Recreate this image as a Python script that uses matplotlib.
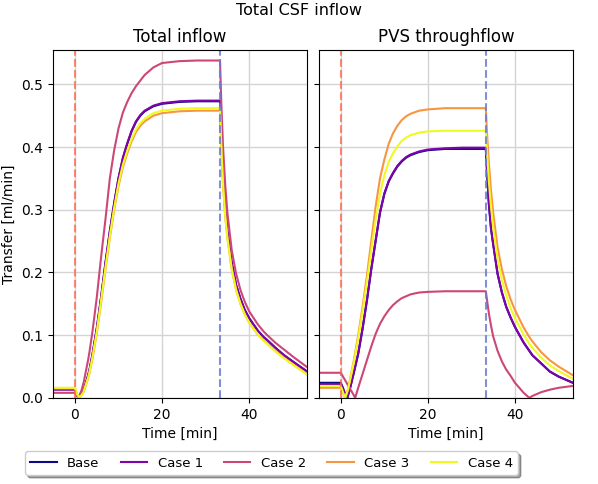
#!/usr/bin/env python3
# -*- coding: utf-8 -*-
"""
    Total CSF inflow: total inflow and PVS throughflow for the base case
    and four parameter variations.
"""

import matplotlib
matplotlib.use('Agg')
import matplotlib.pyplot as plt

# time [min], injection starts at 0, stops at 33.3
time = [-5, 0, 0.5, 1, 1.5, 2, 3, 3.3, 4, 5, 6, 7, 8, 9, 10, 11, 12, 13, 14,
        15, 16, 18, 20, 24, 28, 33.3, 33.6, 34, 34.5, 35, 36, 37, 38, 39, 40,
        42, 43.3, 44, 46, 48, 50, 53.3]
t_start = 0
t_stop = 33.3

labels = ['Base', 'Case 1', 'Case 2', 'Case 3', 'Case 4']

# Total inflow [ml/min]
inflow_base = [0.014, 0.014, 0.004, 0.002, 0.006, 0.012, 0.035, 0.043, 0.068,
               0.11, 0.16, 0.215, 0.265, 0.31, 0.35, 0.382, 0.405, 0.425,
               0.44, 0.45, 0.457, 0.465, 0.469, 0.472, 0.473, 0.473, 0.41,
               0.35, 0.30, 0.265, 0.215, 0.18, 0.158, 0.14, 0.127, 0.107,
               0.097, 0.093, 0.08, 0.068, 0.058, 0.042]
inflow_case1 = [0.013, 0.013, 0.004, 0.002, 0.006, 0.012, 0.036, 0.044,
                0.069, 0.111, 0.161, 0.216, 0.266, 0.311, 0.351, 0.383,
                0.406, 0.426, 0.441, 0.451, 0.458, 0.466, 0.470, 0.473,
                0.474, 0.474, 0.41, 0.35, 0.30, 0.265, 0.215, 0.18, 0.158,
                0.14, 0.127, 0.107, 0.097, 0.093, 0.08, 0.068, 0.058, 0.042]
inflow_case2 = [0.008, 0.008, 0.002, 0.004, 0.012, 0.025, 0.06, 0.072, 0.105,
                0.16, 0.225, 0.285, 0.35, 0.395, 0.43, 0.455, 0.472, 0.486,
                0.497, 0.506, 0.515, 0.527, 0.534, 0.537, 0.538, 0.538, 0.47,
                0.40, 0.34, 0.295, 0.235, 0.198, 0.172, 0.153, 0.138, 0.117,
                0.106, 0.101, 0.088, 0.077, 0.066, 0.049]
inflow_case3 = [0.015, 0.015, 0.005, 0.001, 0.004, 0.010, 0.031, 0.039,
                0.062, 0.103, 0.152, 0.205, 0.255, 0.30, 0.338, 0.368, 0.39,
                0.409, 0.424, 0.434, 0.441, 0.45, 0.454, 0.457, 0.458, 0.458,
                0.40, 0.34, 0.29, 0.255, 0.205, 0.172, 0.15, 0.133, 0.12,
                0.101, 0.092, 0.088, 0.075, 0.064, 0.054, 0.038]
inflow_case4 = [0.016, 0.016, 0.006, 0.001, 0.004, 0.010, 0.032, 0.040,
                0.064, 0.105, 0.155, 0.208, 0.258, 0.303, 0.342, 0.372,
                0.394, 0.413, 0.428, 0.438, 0.445, 0.454, 0.458, 0.461,
                0.462, 0.462, 0.40, 0.34, 0.29, 0.255, 0.205, 0.172, 0.15,
                0.133, 0.12, 0.101, 0.091, 0.087, 0.074, 0.063, 0.053, 0.037]

# PVS throughflow [ml/min]
pvs_base = [0.024, 0.024, 0.016, 0.006, 0.0, 0.012, 0.04, 0.049, 0.07, 0.11,
            0.155, 0.205, 0.25, 0.295, 0.325, 0.345, 0.358, 0.369, 0.377,
            0.383, 0.387, 0.392, 0.395, 0.397, 0.397, 0.397, 0.36, 0.31,
            0.27, 0.245, 0.198, 0.168, 0.145, 0.128, 0.113, 0.088, 0.075,
            0.068, 0.055, 0.042, 0.034, 0.024]
pvs_case1 = [0.022, 0.022, 0.014, 0.005, 0.0, 0.012, 0.041, 0.05, 0.071,
             0.111, 0.156, 0.206, 0.251, 0.296, 0.326, 0.346, 0.359, 0.37,
             0.378, 0.384, 0.388, 0.393, 0.396, 0.398, 0.399, 0.399, 0.36,
             0.31, 0.27, 0.245, 0.198, 0.168, 0.145, 0.128, 0.113, 0.088,
             0.075, 0.068, 0.055, 0.042, 0.034, 0.024]
pvs_case2 = [0.040, 0.040, 0.034, 0.028, 0.022, 0.016, 0.004, 0.0, 0.016,
             0.038, 0.06, 0.082, 0.102, 0.118, 0.13, 0.14, 0.148, 0.154,
             0.159, 0.162, 0.165, 0.168, 0.169, 0.17, 0.17, 0.17, 0.155,
             0.135, 0.115, 0.098, 0.075, 0.058, 0.045, 0.035, 0.024, 0.008,
             0.0, 0.003, 0.009, 0.013, 0.016, 0.019]
pvs_case3 = [0.016, 0.016, 0.008, 0.0, 0.01, 0.025, 0.06, 0.072, 0.1, 0.145,
             0.195, 0.25, 0.305, 0.35, 0.38, 0.405, 0.422, 0.434, 0.443,
             0.449, 0.453, 0.458, 0.46, 0.462, 0.462, 0.462, 0.42, 0.375,
             0.33, 0.295, 0.24, 0.205, 0.178, 0.157, 0.14, 0.112, 0.097,
             0.09, 0.073, 0.06, 0.05, 0.036]
pvs_case4 = [0.019, 0.019, 0.009, 0.0, 0.01, 0.024, 0.057, 0.068, 0.095,
             0.138, 0.185, 0.235, 0.285, 0.325, 0.355, 0.376, 0.39, 0.401,
             0.41, 0.415, 0.419, 0.423, 0.425, 0.426, 0.426, 0.426, 0.39,
             0.345, 0.305, 0.272, 0.222, 0.188, 0.163, 0.143, 0.127, 0.101,
             0.086, 0.08, 0.064, 0.052, 0.043, 0.03]

inflow = [inflow_base, inflow_case1, inflow_case2, inflow_case3, inflow_case4]
pvs = [pvs_base, pvs_case1, pvs_case2, pvs_case3, pvs_case4]

cmap = plt.get_cmap('plasma')
colors = [cmap(i / 4) for i in range(5)]

fig, axes = plt.subplots(1, 2, figsize=(5.98, 4.84), dpi=100, sharey=True)
fig.subplots_adjust(left=0.089, right=0.958, top=0.897, bottom=0.178,
                    wspace=0.047)

for ax, data, title in zip(axes, [inflow, pvs],
                           ['Total inflow', 'PVS throughflow']):
    ax.grid(True, color='#d4d4d4', linewidth=1.0)
    ax.set_axisbelow(True)
    for vals, col, lab in zip(data, colors, labels):
        ax.plot(time, vals, color=col, lw=1.5, label=lab)
    ax.axvline(t_start, color='tomato', ls='--', lw=1.5, alpha=0.75)
    ax.axvline(t_stop, color='#6a7bd0', ls='--', lw=1.5, alpha=0.85)
    ax.set_title(title, fontsize=12)
    ax.set_xlabel('Time [min]')
    ax.set_xlim(time[0], time[-1])
    ax.set_xticks([0, 20, 40])

axes[0].set_ylim(0, 0.555)
axes[0].set_ylabel('Transfer [ml/min]')
fig.suptitle('Total CSF inflow', fontsize=11.5, y=0.993)

handles, labs = axes[0].get_legend_handles_labels()
fig.legend(handles, labs, loc='lower center', ncol=5, shadow=True,
           fontsize=9.5, columnspacing=1.6,
           bbox_to_anchor=(0.454, 0.005))

fig.savefig('out.png', dpi=100)
